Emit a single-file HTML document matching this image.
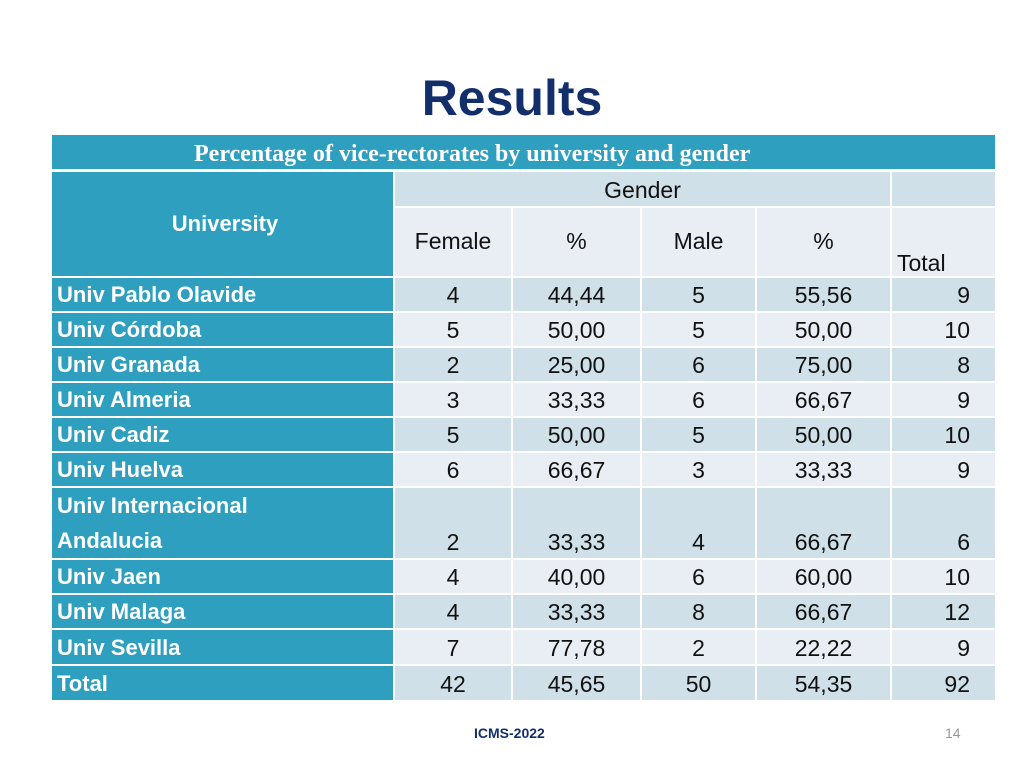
<!DOCTYPE html>
<html><head><meta charset="utf-8">
<style>
body{margin:0;width:1024px;height:768px;background:#fff;position:relative;overflow:hidden;font-family:"Liberation Sans",sans-serif;}
#title{position:absolute;left:0;width:1024px;top:69px;text-align:center;font-size:50px;font-weight:bold;color:#132f6b;}
#cap{position:absolute;left:52px;top:135px;width:943px;height:34px;background:#2e9fbe;color:#fff;font-family:"Liberation Serif",serif;font-weight:bold;font-size:24px;line-height:38px;box-sizing:border-box;padding-left:142px;}
table{position:absolute;left:50px;top:170px;border-collapse:collapse;table-layout:fixed;}
td{border:2px solid #fff;padding:0;font-size:23px;color:#111;text-align:center;vertical-align:bottom;line-height:26px;padding-bottom:3px;overflow:hidden;white-space:nowrap;}
td.n{background:#2e9fbe;color:#fff;font-weight:bold;text-align:left;padding-left:5px;font-size:22px;}
tr.d td{background:#cfe0e8;}
tr.l td{background:#e8eef3;}
tr.d td.n,tr.l td.n{background:#2e9fbe;}
td.t{text-align:right;padding-right:25px;}
#foot{position:absolute;left:474px;top:725px;font-size:14px;font-weight:bold;color:#132f6b;}
#pg{position:absolute;left:945px;top:725px;font-size:14px;color:#999;}
</style></head><body>
<div id="title">Results</div>
<div id="cap">Percentage of vice-rectorates by university and gender</div>
<table>
<colgroup><col style="width:343px"><col style="width:118px"><col style="width:129px"><col style="width:115px"><col style="width:135px"><col style="width:105px"></colgroup>
<tr style="height:36px" class="d"><td class="n" rowspan="2" style="text-align:center;vertical-align:middle;padding-bottom:0px">University</td><td colspan="4">Gender</td><td></td></tr>
<tr style="height:70px" class="l"><td style="vertical-align:middle">Female</td><td style="vertical-align:middle">%</td><td style="vertical-align:middle">Male</td><td style="vertical-align:middle">%</td><td style="text-align:left;padding-left:5px;padding-bottom:0">Total</td></tr>
<tr style="height:35px" class="d"><td class="n">Univ Pablo Olavide</td><td>4</td><td>44,44</td><td>5</td><td>55,56</td><td class="t">9</td></tr>
<tr style="height:35px" class="l"><td class="n">Univ Córdoba</td><td>5</td><td>50,00</td><td>5</td><td>50,00</td><td class="t">10</td></tr>
<tr style="height:35px" class="d"><td class="n">Univ Granada</td><td>2</td><td>25,00</td><td>6</td><td>75,00</td><td class="t">8</td></tr>
<tr style="height:35px" class="l"><td class="n">Univ Almeria</td><td>3</td><td>33,33</td><td>6</td><td>66,67</td><td class="t">9</td></tr>
<tr style="height:35px" class="d"><td class="n">Univ Cadiz</td><td>5</td><td>50,00</td><td>5</td><td>50,00</td><td class="t">10</td></tr>
<tr style="height:35px" class="l"><td class="n">Univ Huelva</td><td>6</td><td>66,67</td><td>3</td><td>33,33</td><td class="t">9</td></tr>
<tr style="height:70px" class="d"><td class="n" style="line-height:35px;padding-bottom:0">Univ Internacional<br>Andalucia</td><td>2</td><td>33,33</td><td>4</td><td>66,67</td><td class="t">6</td></tr>
<tr style="height:35px" class="l"><td class="n">Univ Jaen</td><td>4</td><td>40,00</td><td>6</td><td>60,00</td><td class="t">10</td></tr>
<tr style="height:35px" class="d"><td class="n">Univ Malaga</td><td>4</td><td>33,33</td><td>8</td><td>66,67</td><td class="t">12</td></tr>
<tr style="height:36px" class="l"><td class="n">Univ Sevilla</td><td>7</td><td>77,78</td><td>2</td><td>22,22</td><td class="t">9</td></tr>
<tr style="height:36px" class="d"><td class="n">Total</td><td>42</td><td>45,65</td><td>50</td><td>54,35</td><td class="t">92</td></tr>
</table>
<div id="foot">ICMS-2022</div>
<div id="pg">14</div>
</body></html>
